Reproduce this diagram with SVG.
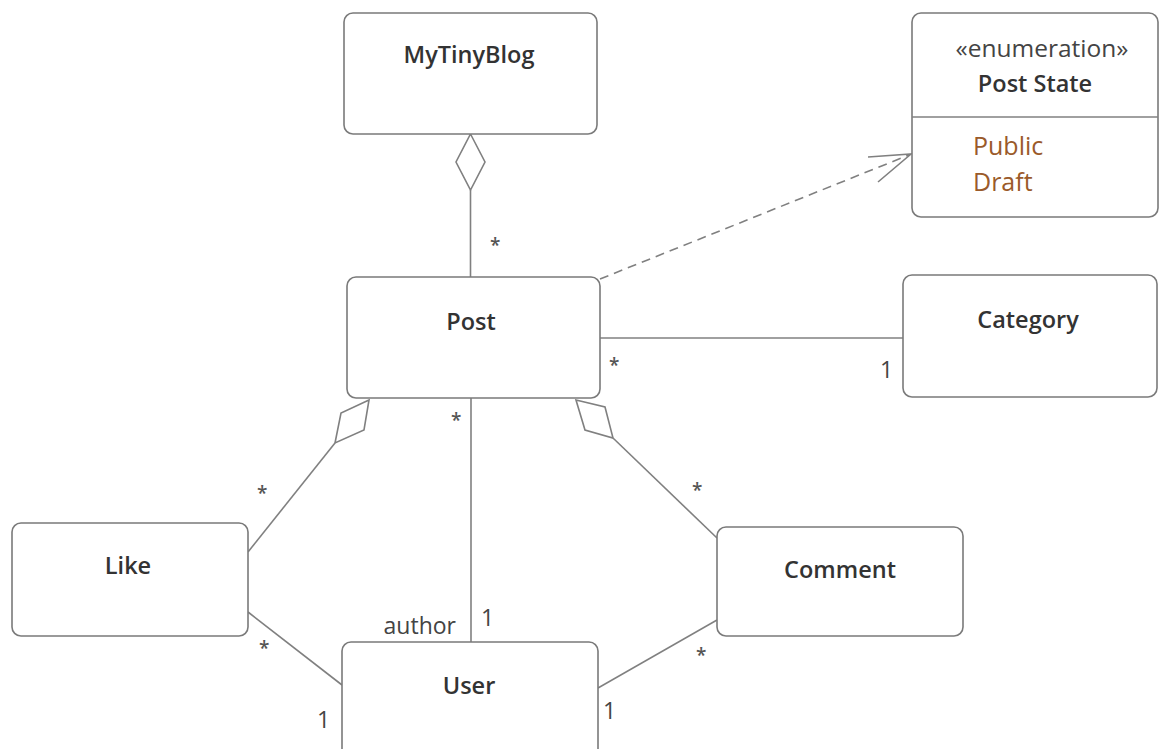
<svg xmlns="http://www.w3.org/2000/svg" width="1159" height="749" viewBox="0 0 1159 749">
<style>
.box{fill:#fff;stroke:#7a7a7a;stroke-width:1.6}
.name{font-family:"Open Sans","Noto Sans",sans-serif;font-weight:600;font-size:23.5px;fill:#333;text-anchor:middle}
.ln{fill:none;stroke:#808080;stroke-width:1.6}
.dash{fill:none;stroke:#808080;stroke-width:1.6;stroke-dasharray:9,6}
.dia{fill:#fff;stroke:#808080;stroke-width:1.6;stroke-linejoin:miter}
.mult{font-family:"Open Sans","Noto Sans",sans-serif;font-size:23px;fill:#444}
.star{font-family:"Open Sans","Noto Sans",sans-serif;font-size:19px;fill:#555;font-weight:600}
.lit{font-family:"Open Sans","Noto Sans",sans-serif;font-size:25px;fill:#9a5a2a}
</style>
<rect width="1159" height="749" fill="#fff"/>
<g id="connectors">
  <line class="ln" x1="470.5" y1="190" x2="470.5" y2="277"/>
  <polygon class="dia" points="470.5,134 485,162 470.5,190 456,162"/>
  <text class="star" x="490" y="252">*</text>

  <line class="dash" x1="600" y1="279" x2="909" y2="155"/>
  <polyline class="ln" points="868,157 911,154 878,182"/>

  <line class="ln" x1="600" y1="338" x2="903" y2="338"/>
  <text class="star" x="609" y="372">*</text>
  <text class="mult" x="880" y="378">1</text>

  <line class="ln" x1="471" y1="398" x2="471" y2="642"/>
  <text class="star" x="451" y="427">*</text>
  <text class="mult" x="481" y="626">1</text>
  <text class="mult" x="456" y="634" text-anchor="end">author</text>

  <polygon class="dia" points="369,400 341,413 335,443 364,430"/>
  <line class="ln" x1="335" y1="443" x2="248" y2="552"/>
  <text class="star" x="257" y="500">*</text>

  <polygon class="dia" points="576,400 605,407 613,438 585,430"/>
  <line class="ln" x1="613" y1="438" x2="717" y2="538"/>
  <text class="star" x="692" y="497">*</text>

  <line class="ln" x1="248" y1="612" x2="342" y2="685"/>
  <text class="star" x="259" y="655">*</text>
  <text class="mult" x="317" y="728">1</text>

  <line class="ln" x1="717" y1="620" x2="598" y2="688"/>
  <text class="star" x="696" y="662">*</text>
  <text class="mult" x="603" y="719">1</text>
</g>
<g id="MyTinyBlog">
  <rect class="box" x="344" y="13" width="253" height="121" rx="9"/>
  <text class="name" x="469" y="63">MyTinyBlog</text>
</g>
<g id="PostState">
  <rect class="box" x="912" y="13" width="246" height="204" rx="9"/>
  <line class="ln" x1="912" y1="117" x2="1158" y2="117"/>
  <text x="1042" y="57" font-family="'Open Sans','Noto Sans',sans-serif" font-size="24.5" fill="#444" text-anchor="middle">«enumeration»</text>
  <text class="name" x="1035" y="92">Post State</text>
  <text class="lit" x="973" y="155">Public</text>
  <text class="lit" x="973" y="191">Draft</text>
</g>
<g id="Post">
  <rect class="box" x="347" y="277" width="253" height="121" rx="9"/>
  <text class="name" x="471" y="330">Post</text>
</g>
<g id="Category">
  <rect class="box" x="903" y="275" width="254" height="122" rx="9"/>
  <text class="name" x="1028" y="328">Category</text>
</g>
<g id="Like">
  <rect class="box" x="12" y="523" width="236" height="113" rx="9"/>
  <text class="name" x="128" y="574">Like</text>
</g>
<g id="Comment">
  <rect class="box" x="717" y="527" width="246" height="109" rx="9"/>
  <text class="name" x="840" y="578">Comment</text>
</g>
<g id="User">
  <rect class="box" x="342" y="642" width="256" height="120" rx="9"/>
  <text class="name" x="469" y="694">User</text>
</g>
</svg>
